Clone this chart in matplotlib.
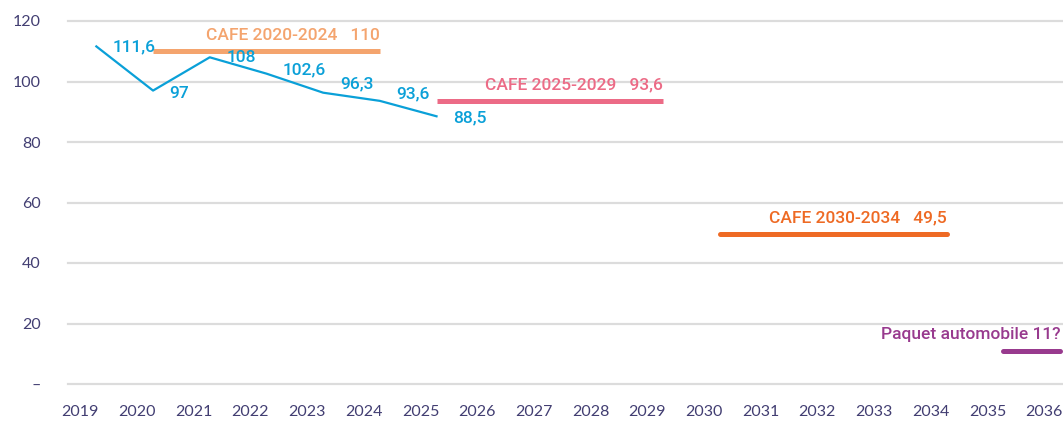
import matplotlib
matplotlib.use("Agg")
import matplotlib.pyplot as plt
import matplotlib.transforms as mtransforms

# measured fleet values (blue line)
years = [2019, 2020, 2021, 2022, 2023, 2024, 2025]
values = [111.6, 97, 108, 102.6, 96.3, 93.6, 88.5]
value_labels = ["111,6", "97", "108", "102,6", "96,3", "93,6", "88,5"]

# regulatory targets
target_names = ["CAFE 2020-2024   110", "CAFE 2025-2029   93,6",
                "CAFE 2030-2034   49,5", "Paquet automobile 11?"]
target_start = [2020, 2025, 2030, 2035]
target_end = [2024, 2029, 2034, 2036]
target_values = [110, 93.6, 49.5, 11]
target_colors = ["#F4A46E", "#EC6B86", "#EE6A24", "#983A8E"]
target_caps = ["butt", "butt", "round", "round"]

all_years = list(range(2019, 2037))
yticks = [0, 20, 40, 60, 80, 100, 120]
ytick_labels = ["–", "20", "40", "60", "80", "100", "120"]

blue = "#0AA0D8"
tick_color = "#423E72"

fig = plt.figure(figsize=(10.63, 4.25), dpi=100)
ax = fig.add_axes([68 / 1063, 41 / 425, 995 / 1063, 363 / 425])

ax.set_xlim(2018.5, 2036.05)
ax.set_ylim(0, 120)

for y in yticks:
    ax.axhline(y, color="#DCDCDC", lw=1.6, zorder=0, clip_on=False)

ax.plot(years, values, color=blue, lw=1.6, zorder=3)

# per-label nudges (points) to mimic the original placement
dy = [0, -2, 0, 3, 6, 5, -1]
for x, v, lab, d in zip(years, values, value_labels, dy):
    ax.annotate(lab, (x, v), xytext=(12, d), textcoords="offset points",
                ha="left", va="center", color=blue, fontsize=12.5,
                family="Roboto", fontweight="medium", zorder=4)

for name, x0, x1, v, c, cap in zip(target_names, target_start, target_end,
                                    target_values, target_colors, target_caps):
    ax.plot([x0, x1], [v, v], color=c, lw=3.6, solid_capstyle=cap,
            zorder=2, clip_on=False)
    ax.annotate(name, (x1, v), xytext=(0, 11.5), textcoords="offset points",
                ha="right", va="center", color=c, fontsize=12.5,
                family="Roboto", fontweight="medium")

ax.set_xticks(all_years)
ax.set_xticklabels([str(y) for y in all_years])
ax.set_yticks(yticks)
ax.set_yticklabels(ytick_labels)
ax.tick_params(axis="x", length=0, pad=15, labelsize=11.5, labelcolor=tick_color)
ax.tick_params(axis="y", length=0, pad=19.5, labelsize=11.5, labelcolor=tick_color)
for t in ax.get_xticklabels() + ax.get_yticklabels():
    t.set_family("Lato")

shift = mtransforms.ScaledTranslation(-16 / 100, 0, fig.dpi_scale_trans)
for t in ax.get_xticklabels():
    t.set_transform(t.get_transform() + shift)

for s in ax.spines.values():
    s.set_visible(False)

fig.savefig("out.png", dpi=100)
